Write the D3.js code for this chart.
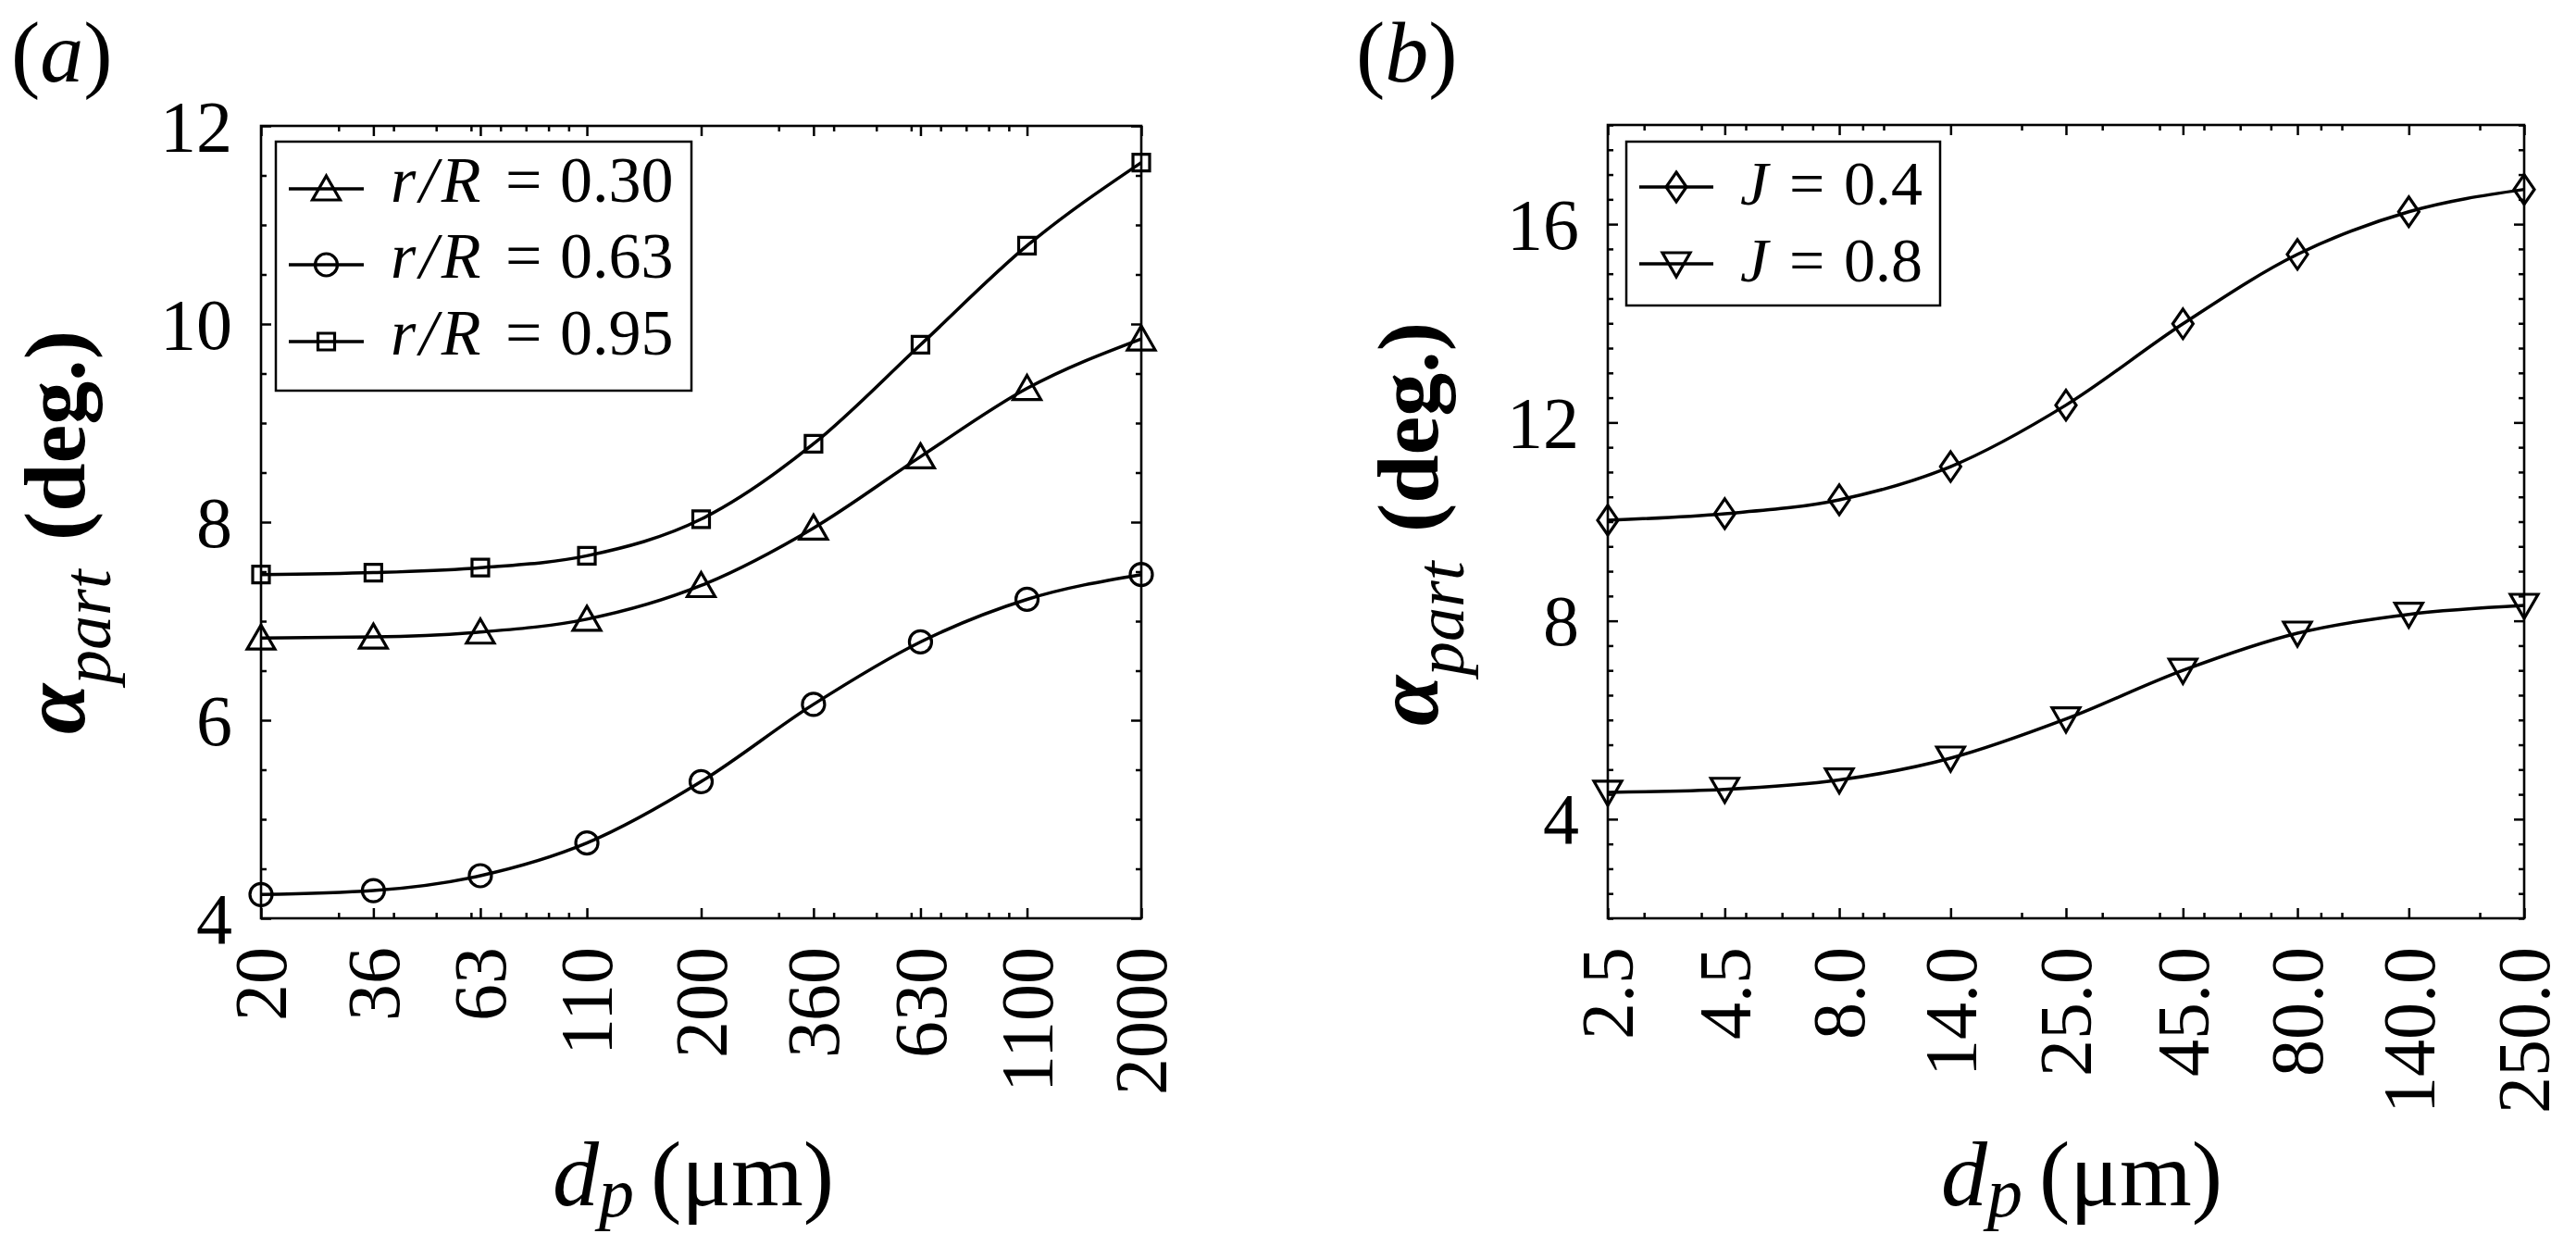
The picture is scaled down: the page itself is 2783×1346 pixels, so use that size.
<!DOCTYPE html>
<html><head><meta charset="utf-8">
<script src="https://cdn.jsdelivr.net/npm/d3@7"></script>
<style>
body{margin:0;background:#fff}
svg{display:block}
text{font-family:"Liberation Serif","Times New Roman",serif;fill:#000}
</style>
</head><body>
<svg id="chart" width="2783" height="1346"></svg>
<script>
// ---------- data ----------
const dpA = [20, 36, 63, 110, 200, 360, 630, 1100, 2000];
const dpALabels = ["20", "36", "63", "110", "200", "360", "630", "1100", "2000"];
const alphaR030 = [6.83, 6.84, 6.89, 7.02, 7.36, 7.94, 8.66, 9.35, 9.85];
const alphaR063 = [4.24, 4.28, 4.43, 4.76, 5.38, 6.16, 6.79, 7.22, 7.47];
const alphaR095 = [7.47, 7.49, 7.54, 7.66, 8.03, 8.79, 9.79, 10.79, 11.63];
const legendA = ["0.30", "0.63", "0.95"];

const dpB = [2.5, 4.5, 8, 14, 25, 45, 80, 140, 250];
const dpBLabels = ["2.5", "4.5", "8.0", "14.0", "25.0", "45.0", "80.0", "140.0", "250.0"];
const alphaJ04 = [10.03, 10.16, 10.44, 11.11, 12.35, 13.99, 15.39, 16.25, 16.70];
const alphaJ08 = [4.54, 4.60, 4.79, 5.23, 6.02, 7.00, 7.75, 8.13, 8.31];
const legendB = ["0.4", "0.8"];

const minorA = [30, 40, 50, 60, 70, 80, 90, 100, 300, 400, 500, 600, 700, 800, 900, 1000];
const minorB = [3, 4, 5, 6, 7, 9, 10, 20, 30, 40, 50, 60, 70, 90, 100, 200];
const yMajorA = [4, 6, 8, 10, 12];
const yMajorB = [4, 8, 12, 16];

// ---------- drawing ----------
const svg = d3.select("#chart");
svg.append("rect").attr("width", 2783).attr("height", 1346).attr("fill", "#fff");

const markerShapes = {
  triUp: "M0,-14L15,12L-15,12Z",
  triDown: "M-15,-12L15,-12L0,14Z",
  square: "M-9,-9L9,-9L9,9L-9,9Z",
  diamond: "M0,-16L11,0L0,16L-11,0Z"
};
function drawMarker(g, type, cx, cy) {
  if (type === "circle") {
    g.append("circle").attr("cx", cx).attr("cy", cy).attr("r", 12)
      .attr("fill", "none").attr("stroke", "#000").attr("stroke-width", 3.2);
  } else {
    g.append("path").attr("d", markerShapes[type])
      .attr("transform", `translate(${cx},${cy})`)
      .attr("fill", "none").attr("stroke", "#000").attr("stroke-width", 3.2);
  }
}

function panel(cfg) {
  const g = svg.append("g");
  const x = d3.scaleLog().domain(cfg.xDomain).range([cfg.left, cfg.right]);
  const y = d3.scaleLinear().domain(cfg.yDomain).range([cfg.bottom, cfg.top]);
  const yAll = d3.range(cfg.yDomain[0], cfg.yDomain[1] + 0.001, 0.5);
  const yMinor = yAll.filter(v => !cfg.yMajor.includes(v));

  const axes = [
    [d3.axisBottom(x).tickValues(cfg.xs).tickSizeInner(-11), `translate(0,${cfg.bottom})`],
    [d3.axisBottom(x).tickValues(cfg.minor).tickSizeInner(-6), `translate(0,${cfg.bottom})`],
    [d3.axisTop(x).tickValues(cfg.xs).tickSizeInner(-11), `translate(0,${cfg.top})`],
    [d3.axisTop(x).tickValues(cfg.minor).tickSizeInner(-6), `translate(0,${cfg.top})`],
    [d3.axisLeft(y).tickValues(cfg.yMajor).tickSizeInner(-11), `translate(${cfg.left},0)`],
    [d3.axisLeft(y).tickValues(yMinor).tickSizeInner(-6), `translate(${cfg.left},0)`],
    [d3.axisRight(y).tickValues(cfg.yMajor).tickSizeInner(-11), `translate(${cfg.right},0)`],
    [d3.axisRight(y).tickValues(yMinor).tickSizeInner(-6), `translate(${cfg.right},0)`]
  ];
  axes.forEach(([ax, tr]) => {
    const a = g.append("g").attr("transform", tr)
      .call(ax.tickSizeOuter(0).tickFormat(""));
    a.select(".domain").remove();
    a.selectAll("line").attr("stroke", "#000").attr("stroke-width", 2.5);
    a.selectAll("text").remove();
  });

  // frame
  g.append("rect").attr("x", cfg.left).attr("y", cfg.top)
    .attr("width", cfg.right - cfg.left).attr("height", cfg.bottom - cfg.top)
    .attr("fill", "none").attr("stroke", "#000").attr("stroke-width", 2.6);

  // x tick labels (rotated)
  g.selectAll(null).data(cfg.xs).enter().append("text")
    .attr("transform", d => `translate(${x(d)},${cfg.bottom + 31}) rotate(-90)`)
    .attr("text-anchor", "end").attr("dy", "0.34em")
    .attr("font-size", 80)
    .text((d, i) => cfg.xLabels[i]);

  // y tick labels
  g.selectAll(null).data(cfg.yMajor).enter().append("text")
    .attr("x", cfg.left - 31).attr("y", d => y(d))
    .attr("text-anchor", "end").attr("dy", "0.34em")
    .attr("font-size", 78)
    .text(d => d);

  // series
  const line = d3.line().x(d => x(d[0])).y(d => y(d[1])).curve(d3.curveMonotoneX);
  cfg.series.forEach(s => {
    const pts = cfg.xs.map((v, i) => [v, s.values[i]]);
    g.append("path").attr("d", line(pts)).attr("fill", "none")
      .attr("stroke", "#000").attr("stroke-width", 3.5);
    pts.forEach(p => drawMarker(g, s.marker, x(p[0]), y(p[1])));
  });

  // legend
  const L = cfg.legend;
  g.append("rect").attr("x", L.x).attr("y", L.y).attr("width", L.w).attr("height", L.h)
    .attr("fill", "#fff").attr("stroke", "#000").attr("stroke-width", 2.5);
  cfg.series.forEach((s, i) => {
    const ly = L.rows[i];
    g.append("line").attr("x1", L.lx1).attr("x2", L.lx2).attr("y1", ly).attr("y2", ly)
      .attr("stroke", "#000").attr("stroke-width", 3.5);
    drawMarker(g, s.marker, (L.lx1 + L.lx2) / 2, ly);
    const t = g.append("text").attr("y", ly + L.base).attr("font-size", L.fs);
    t.append("tspan").attr("x", L.tx).attr("font-style", "italic")
      .attr("letter-spacing", L.ls).text(L.sym);
    t.append("tspan").attr("x", L.tx + L.eq).text("=");
    t.append("tspan").attr("x", L.tx + L.val).text(s.name);
  });

  // y label
  const yl = g.append("text")
    .attr("transform", `translate(${cfg.ylx},${cfg.yly}) rotate(-90)`)
    .attr("text-anchor", "middle");
  yl.append("tspan").attr("font-size", 98).attr("font-weight", "bold").attr("font-style", "italic").text("α");
  yl.append("tspan").attr("font-size", 74).attr("font-style", "italic").attr("dy", 28).text("part");
  yl.append("tspan").attr("font-size", 94).attr("font-weight", "bold").attr("dy", -28).attr("dx", 8).text(" (deg.)");

  // x label
  const xl = g.append("text").attr("x", cfg.xlx).attr("y", 1302);
  xl.append("tspan").attr("font-size", 100).attr("font-style", "italic").text("d");
  xl.append("tspan").attr("font-size", 76).attr("font-style", "italic").attr("dy", 12).text("p");
  xl.append("tspan").attr("font-size", 100).attr("dy", -12).attr("dx", 18).text("(μm)");

  // panel label
  const pl = g.append("text").attr("x", cfg.plx).attr("y", 88).attr("font-size", 94);
  pl.append("tspan").text("(");
  pl.append("tspan").attr("font-style", "italic").text(cfg.tag);
  pl.append("tspan").text(")");
}

panel({
  left: 282, right: 1233, top: 136, bottom: 992,
  xDomain: [20, 2000], yDomain: [4, 12],
  xs: dpA, xLabels: dpALabels, minor: minorA, yMajor: yMajorA,
  series: [
    {values: alphaR030, marker: "triUp", name: legendA[0]},
    {values: alphaR063, marker: "circle", name: legendA[1]},
    {values: alphaR095, marker: "square", name: legendA[2]}
  ],
  legend: {x: 298, y: 153, w: 449, h: 269, rows: [204, 286, 369], lx1: 312, lx2: 393,
           tx: 422, eq: 124, val: 183, base: 14, fs: 70, sym: "r/R", ls: 4},
  ylx: 91, yly: 575, xlx: 597, plx: 12, tag: "a"
});

panel({
  left: 1737, right: 2727, top: 135, bottom: 992,
  xDomain: [2.5, 250], yDomain: [2, 18],
  xs: dpB, xLabels: dpBLabels, minor: minorB, yMajor: yMajorB,
  series: [
    {values: alphaJ04, marker: "diamond", name: legendB[0]},
    {values: alphaJ08, marker: "triDown", name: legendB[1]}
  ],
  legend: {x: 1757, y: 153, w: 339, h: 177, rows: [202, 285], lx1: 1771, lx2: 1851,
           tx: 1880, eq: 53, val: 112, base: 19, fs: 68, sym: "J", ls: 0},
  ylx: 1553, yly: 566, xlx: 2097, plx: 1465, tag: "b"
});
</script>
</body></html>
